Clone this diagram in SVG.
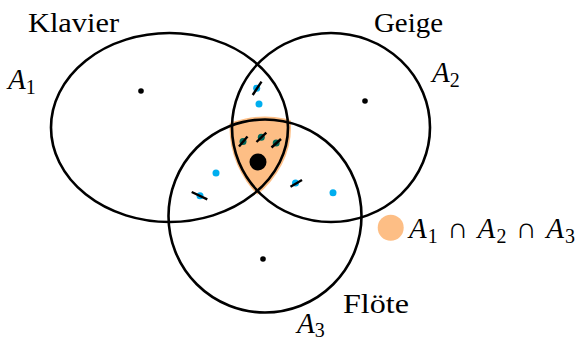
<svg xmlns="http://www.w3.org/2000/svg" width="579" height="340" viewBox="0 0 579 340">
<style>
.set{fill:none;stroke:#000;stroke-width:2.6}
.lbl{font-family:"Liberation Serif",serif;font-size:27px;fill:#000}
.math{font-family:"Liberation Serif",serif;font-size:29px;font-style:italic;fill:#000}
.sub{font-style:normal;font-size:20px}
.op{font-style:normal}
.dot{fill:#000}
.blue{fill:#00AEEF}
.teal{fill:#00695C}
.dash{stroke:#000;stroke-width:2.4;stroke-linecap:butt}
</style>
<defs>
<clipPath id="c2"><ellipse cx="331" cy="127.5" rx="101.5" ry="97.5"/></clipPath>
<clipPath id="c3"><circle cx="265" cy="216" r="99.5"/></clipPath>
</defs>
<g id="intersection">
<g clip-path="url(#c3)"><ellipse cx="169.5" cy="127.5" rx="121.5" ry="97.5" fill="#FDBE85" clip-path="url(#c2)"/></g>
</g>
<g id="A1">
<ellipse class="set" cx="169.5" cy="127.5" rx="118.5" ry="94.5"/>
<circle class="dot" cx="141" cy="91" r="2.8"/>
<text class="lbl" x="28" y="32" textLength="91" lengthAdjust="spacingAndGlyphs">Klavier</text>
<text class="math" x="8" y="89">A<tspan class="sub" dy="5">1</tspan></text>
</g>
<g id="A2">
<ellipse class="set" cx="331" cy="127.5" rx="99" ry="94.5"/>
<circle class="dot" cx="365" cy="101" r="2.8"/>
<text class="lbl" x="374" y="32" textLength="69" lengthAdjust="spacingAndGlyphs">Geige</text>
<text class="math" x="432" y="82">A<tspan class="sub" dy="5">2</tspan></text>
</g>
<g id="A3">
<circle class="set" cx="265" cy="216" r="96.5"/>
<circle class="dot" cx="263" cy="259" r="2.8"/>
<text class="lbl" x="343" y="313" textLength="66" lengthAdjust="spacingAndGlyphs">Flöte</text>
<text class="math" x="297" y="333">A<tspan class="sub" dy="4">3</tspan></text>
</g>
<g id="points">
<circle cx="258" cy="162" r="8.5" fill="#000"/>
<circle class="blue" cx="259" cy="104" r="3.5"/>
<circle class="blue" cx="256.7" cy="88.3" r="3.5"/>
<circle class="blue" cx="216" cy="173" r="3.5"/>
<circle class="blue" cx="200" cy="195.7" r="3.5"/>
<circle class="blue" cx="295.5" cy="183" r="3.5"/>
<circle class="blue" cx="333" cy="192.7" r="3.5"/>
<circle class="teal" cx="243" cy="141.5" r="3.5"/>
<circle class="teal" cx="261.3" cy="137.3" r="3.5"/>
<circle class="teal" cx="276.2" cy="143" r="3.5"/>
</g>
<g id="connectors">
<line class="dash" x1="252.7" y1="95" x2="261.5" y2="81.7"/>
<line class="dash" x1="239" y1="146.5" x2="247.5" y2="136.5"/>
<line class="dash" x1="256.5" y1="142" x2="266.3" y2="132.7"/>
<line class="dash" x1="271.5" y1="147.5" x2="281" y2="139"/>
<line class="dash" x1="191.7" y1="192" x2="207.3" y2="199.3"/>
<line class="dash" x1="290.5" y1="186.7" x2="302" y2="180"/>
</g>
<g id="legend">
<circle cx="390.7" cy="227.7" r="13" fill="#FDBE85"/>
<text class="math" x="409" y="238" textLength="166" lengthAdjust="spacing">A<tspan class="sub" dy="5">1</tspan><tspan class="op" dy="-5"> ∩ </tspan>A<tspan class="sub" dy="5">2</tspan><tspan class="op" dy="-5"> ∩ </tspan>A<tspan class="sub" dy="5">3</tspan></text>
</g>
</svg>
